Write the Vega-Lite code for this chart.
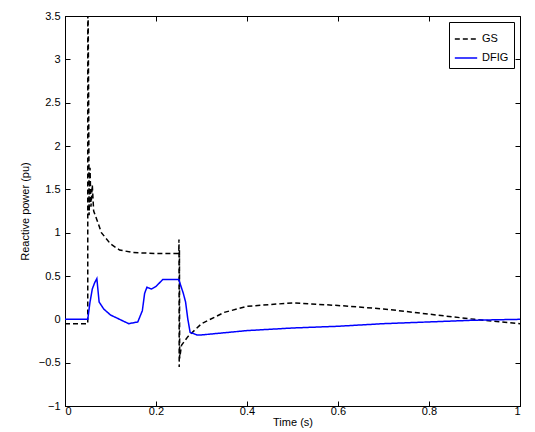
{
  "$schema": "https://vega.github.io/schema/vega-lite/v6.json",
  "width": 455, "height": 390,
  "autosize": "none",
  "padding": {"left": 65, "top": 16, "right": 15, "bottom": 26},
  "background": "white",
  "config": {"view": {"stroke": "black", "strokeWidth": 1}, "font": "Liberation Sans",
    "axis": {"grid": false, "domainColor": "black", "tickColor": "black", "labelColor": "black", "titleColor": "black", "labelFontSize": 11, "titleFontSize": 11, "titleFontWeight": "normal", "tickSize": -5, "format": "~g", "labelFont": "Liberation Sans", "titleFont": "Liberation Sans"}},
  "data": {"values": [
    {"t":0,"q":-0.05,"s":"GS"},{"t":0.05,"q":-0.05,"s":"GS"},{"t":0.0501,"q":4.2,"s":"GS"},{"t":0.052,"q":2.5,"s":"GS"},{"t":0.053,"q":1.2,"s":"GS"},{"t":0.055,"q":1.75,"s":"GS"},{"t":0.057,"q":1.3,"s":"GS"},{"t":0.06,"q":1.55,"s":"GS"},{"t":0.063,"q":1.25,"s":"GS"},{"t":0.07,"q":1.15,"s":"GS"},{"t":0.08,"q":1.0,"s":"GS"},{"t":0.1,"q":0.87,"s":"GS"},{"t":0.12,"q":0.8,"s":"GS"},{"t":0.15,"q":0.77,"s":"GS"},{"t":0.2,"q":0.76,"s":"GS"},{"t":0.25,"q":0.76,"s":"GS"},{"t":0.2505,"q":0.92,"s":"GS"},{"t":0.251,"q":-0.55,"s":"GS"},{"t":0.2515,"q":0.8,"s":"GS"},{"t":0.252,"q":-0.45,"s":"GS"},{"t":0.256,"q":-0.3,"s":"GS"},{"t":0.27,"q":-0.2,"s":"GS"},{"t":0.3,"q":-0.05,"s":"GS"},{"t":0.35,"q":0.08,"s":"GS"},{"t":0.4,"q":0.15,"s":"GS"},{"t":0.5,"q":0.19,"s":"GS"},{"t":0.6,"q":0.16,"s":"GS"},{"t":0.7,"q":0.12,"s":"GS"},{"t":0.8,"q":0.06,"s":"GS"},{"t":0.9,"q":0.0,"s":"GS"},{"t":1.0,"q":-0.05,"s":"GS"},
    {"t":0,"q":0,"s":"DFIG"},{"t":0.05,"q":0,"s":"DFIG"},{"t":0.055,"q":0.2,"s":"DFIG"},{"t":0.06,"q":0.35,"s":"DFIG"},{"t":0.065,"q":0.42,"s":"DFIG"},{"t":0.07,"q":0.47,"s":"DFIG"},{"t":0.075,"q":0.2,"s":"DFIG"},{"t":0.085,"q":0.12,"s":"DFIG"},{"t":0.1,"q":0.05,"s":"DFIG"},{"t":0.12,"q":0.0,"s":"DFIG"},{"t":0.14,"q":-0.05,"s":"DFIG"},{"t":0.16,"q":-0.03,"s":"DFIG"},{"t":0.17,"q":0.1,"s":"DFIG"},{"t":0.175,"q":0.3,"s":"DFIG"},{"t":0.18,"q":0.37,"s":"DFIG"},{"t":0.19,"q":0.35,"s":"DFIG"},{"t":0.2,"q":0.38,"s":"DFIG"},{"t":0.215,"q":0.46,"s":"DFIG"},{"t":0.25,"q":0.46,"s":"DFIG"},{"t":0.255,"q":0.38,"s":"DFIG"},{"t":0.26,"q":0.3,"s":"DFIG"},{"t":0.265,"q":0.2,"s":"DFIG"},{"t":0.27,"q":0.0,"s":"DFIG"},{"t":0.275,"q":-0.15,"s":"DFIG"},{"t":0.29,"q":-0.18,"s":"DFIG"},{"t":0.3,"q":-0.18,"s":"DFIG"},{"t":0.4,"q":-0.13,"s":"DFIG"},{"t":0.5,"q":-0.1,"s":"DFIG"},{"t":0.6,"q":-0.08,"s":"DFIG"},{"t":0.7,"q":-0.05,"s":"DFIG"},{"t":0.8,"q":-0.03,"s":"DFIG"},{"t":0.9,"q":-0.01,"s":"DFIG"},{"t":1.0,"q":0,"s":"DFIG"}
  ]},
  "layer": [
    {
      "mark": {"type": "line", "clip": true, "strokeWidth": 1.5},
      "encoding": {
        "x": {"field": "t", "type": "quantitative", "scale": {"domain": [0, 1], "nice": false}, "axis": {"title": "Time (s)", "values": [0,0.2,0.4,0.6,0.8,1], "titlePadding": 0, "labelPadding": 4}},
        "y": {"field": "q", "type": "quantitative", "scale": {"domain": [-1, 3.5], "nice": false}, "axis": {"title": "Reactive power (pu)", "values": [-1,-0.5,0,0.5,1,1.5,2,2.5,3,3.5], "titlePadding": 8, "labelPadding": 10}},
        "color": {"field": "s", "type": "nominal", "scale": {"domain": ["GS", "DFIG"], "range": ["black", "#0000ff"]},
          "legend": {"title": null, "orient": "top-right", "offset": 6, "strokeColor": "black", "fillColor": "white", "padding": 5, "symbolType": "stroke", "symbolSize": 500, "symbolStrokeWidth": 1.5, "labelFontSize": 11, "labelColor": "black"}},
        "strokeDash": {"field": "s", "type": "nominal", "scale": {"domain": ["GS", "DFIG"], "range": [[5, 3], [1, 0]]}, "legend": null},
        "order": {"field": "t", "type": "quantitative"}
      }
    },
    {
      "mark": {"type": "rule", "opacity": 0},
      "encoding": {
        "x": {"datum": 0, "type": "quantitative", "axis": {"orient": "top", "labels": false, "title": null, "values": [0,0.2,0.4,0.6,0.8,1], "domain": false}},
        "y": {"datum": 0, "type": "quantitative", "axis": {"orient": "right", "labels": false, "title": null, "values": [-1,-0.5,0,0.5,1,1.5,2,2.5,3,3.5], "domain": false}}
      }
    }
  ],
  "resolve": {"axis": {"x": "independent", "y": "independent"}}
}
